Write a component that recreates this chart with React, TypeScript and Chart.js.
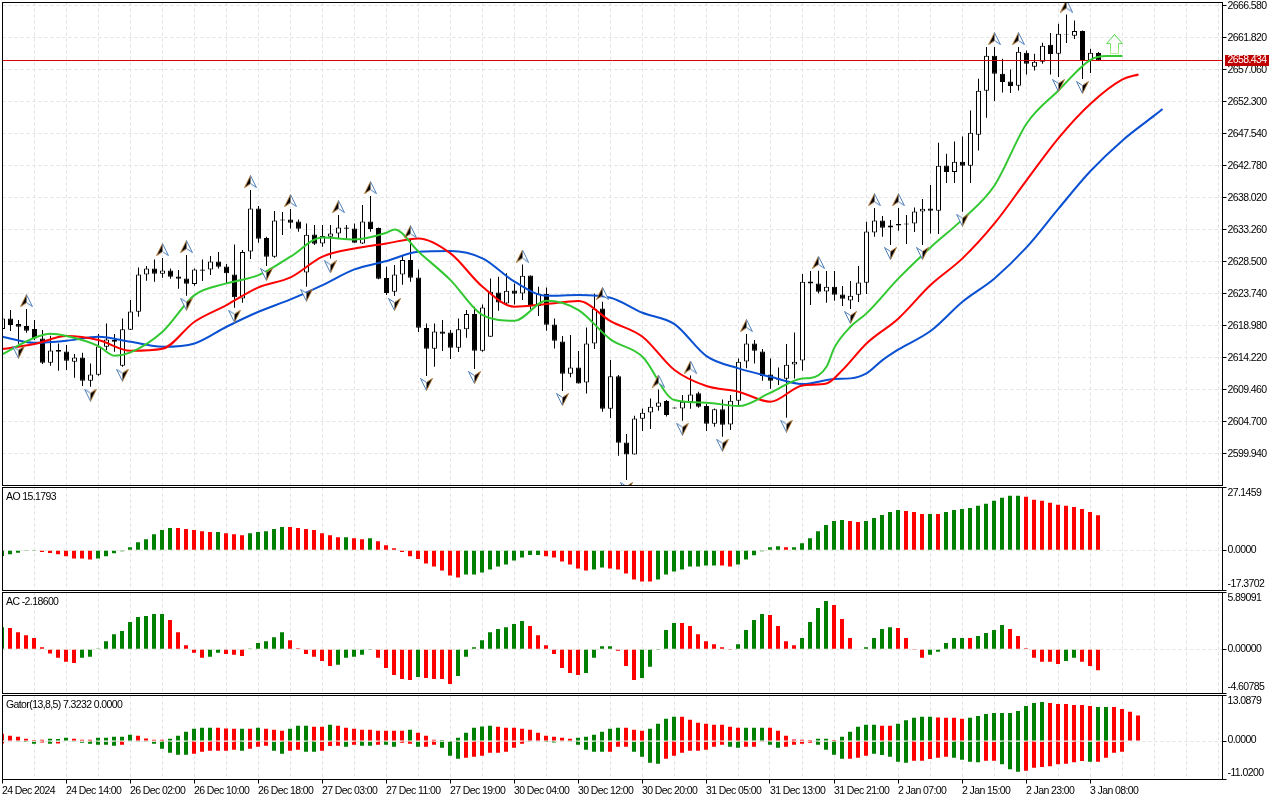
import React, { useEffect, useRef } from "react";
import Chart from "chart.js/auto";

// ---------- price data (one candle per entry) ----------
const opens = [2618.48,2620.07,2619.23,2618.93,2618.48,2617.10,2613.48,2615.36,2615.16,2613.63,2614.27,2610.80,2611.69,2615.86,2616.85,2613.03,2618.39,2621.06,2626.62,2627.51,2626.72,2627.21,2626.32,2626.02,2625.18,2627.36,2627.36,2628.55,2627.81,2626.62,2623.05,2630.04,2636.43,2632.02,2629.25,2634.80,2634.80,2634.50,2626.91,2632.57,2631.23,2632.22,2632.71,2633.61,2633.46,2631.23,2634.50,2633.51,2626.07,2624.04,2626.62,2628.75,2626.17,2618.63,2615.56,2618.14,2617.99,2615.71,2618.44,2620.72,2615.26,2617.35,2623.94,2622.30,2624.24,2623.79,2626.47,2621.91,2623.69,2619.18,2616.65,2611.84,2612.78,2610.55,2616.35,2621.56,2606.64,2611.45,2601.63,2599.84,2605.15,2606.09,2606.93,2607.78,2606.83,2606.68,2607.63,2608.92,2607.03,2604.40,2606.54,2604.30,2607.83,2613.67,2616.35,2615.16,2611.74,2611.15,2611.10,2613.23,2613.82,2625.57,2625.28,2624.09,2624.78,2623.64,2622.75,2623.59,2625.38,2632.86,2634.65,2633.61,2634.10,2634.20,2634.20,2635.99,2636.43,2636.09,2642.83,2641.84,2643.37,2642.78,2647.39,2653.94,2659.14,2656.46,2655.32,2654.68,2659.59,2657.51,2658.25,2660.78,2659.44,2662.21,2662.11,2662.81,2658.40,2659.54];
const highs = [2620.57,2621.31,2619.82,2621.46,2619.82,2618.34,2617.49,2616.35,2616.11,2614.77,2614.97,2613.38,2617.74,2619.33,2617.74,2620.07,2622.80,2627.66,2627.86,2628.85,2629.05,2627.51,2627.26,2629.49,2627.51,2628.85,2629.34,2629.94,2628.16,2631.08,2630.24,2639.16,2636.78,2632.22,2636.04,2635.89,2636.34,2634.80,2634.20,2633.95,2633.95,2633.95,2635.44,2633.95,2634.20,2636.93,2638.27,2633.60,2627.76,2628.01,2629.49,2631.72,2627.36,2619.33,2619.33,2619.82,2618.34,2620.07,2621.31,2621.81,2622.15,2626.02,2626.27,2626.77,2625.28,2628.10,2626.47,2624.78,2624.68,2620.07,2617.45,2617.59,2615.21,2618.73,2623.79,2622.55,2613.87,2611.64,2602.87,2605.59,2606.68,2608.17,2609.51,2607.92,2606.83,2608.67,2611.59,2609.17,2607.33,2606.68,2608.02,2608.67,2614.12,2617.74,2616.85,2615.51,2614.12,2612.78,2616.25,2617.99,2626.67,2627.11,2627.16,2627.11,2627.11,2624.88,2625.62,2627.86,2634.45,2636.48,2635.29,2634.70,2636.48,2635.44,2636.58,2637.82,2639.90,2646.20,2644.57,2646.40,2647.14,2651.01,2655.72,2660.43,2660.43,2658.70,2657.11,2660.43,2659.94,2659.44,2661.08,2662.51,2663.90,2665.29,2664.40,2662.91,2660.18,2659.69];
const lows = [2618.09,2618.19,2616.30,2617.94,2616.85,2613.28,2613.03,2612.29,2612.39,2611.25,2610.01,2609.91,2611.55,2615.36,2615.11,2612.88,2618.34,2620.32,2625.67,2625.53,2626.12,2625.97,2624.49,2623.44,2624.93,2625.62,2626.52,2627.51,2625.28,2621.66,2622.40,2628.90,2631.33,2627.86,2629.10,2632.47,2633.46,2632.96,2624.78,2630.98,2630.73,2629.00,2631.87,2631.97,2631.33,2631.13,2632.96,2625.90,2623.54,2623.39,2625.08,2625.53,2618.04,2611.50,2612.88,2615.21,2614.02,2615.06,2617.20,2612.53,2615.11,2617.35,2621.21,2622.05,2622.15,2622.80,2621.41,2620.42,2618.24,2615.61,2609.26,2611.30,2610.40,2608.91,2615.51,2606.19,2605.25,2599.64,2596.02,2599.84,2603.31,2603.61,2606.34,2605.49,2606.68,2604.85,2606.64,2606.78,2603.31,2603.96,2602.47,2603.46,2606.93,2612.64,2613.38,2610.80,2609.61,2610.15,2605.30,2611.15,2612.29,2622.05,2623.79,2622.40,2622.70,2621.91,2621.46,2622.50,2623.69,2632.22,2632.22,2630.98,2633.11,2631.13,2632.91,2630.98,2632.71,2632.62,2640.20,2640.20,2635.94,2640.20,2645.06,2649.92,2652.40,2653.69,2653.59,2653.99,2656.37,2656.96,2657.95,2656.37,2655.97,2661.02,2661.62,2655.67,2656.56,2658.40];
const closes = [2620.07,2619.08,2618.83,2618.24,2617.10,2613.48,2615.31,2615.11,2613.78,2614.27,2610.80,2611.74,2615.91,2616.95,2616.60,2618.44,2621.11,2626.62,2627.51,2626.72,2627.21,2626.27,2625.97,2625.23,2627.36,2627.16,2628.55,2627.76,2626.77,2623.20,2629.94,2636.43,2631.92,2629.25,2634.65,2634.65,2634.30,2633.41,2632.52,2631.18,2632.32,2632.71,2633.61,2633.41,2631.33,2634.50,2633.36,2625.97,2623.84,2626.62,2628.75,2626.12,2618.68,2615.56,2618.14,2617.79,2615.71,2618.44,2620.72,2615.26,2621.71,2624.04,2622.45,2624.19,2623.74,2626.42,2621.91,2623.79,2619.13,2616.75,2611.84,2612.78,2610.40,2616.35,2621.51,2606.64,2611.45,2601.58,2599.84,2605.20,2606.04,2606.93,2607.58,2605.69,2606.68,2607.68,2608.77,2606.93,2604.40,2606.54,2604.25,2607.83,2613.63,2616.35,2615.26,2611.50,2610.80,2610.95,2613.18,2613.63,2625.52,2625.28,2624.04,2624.78,2623.59,2623.00,2623.44,2625.43,2633.01,2634.65,2633.56,2633.90,2633.90,2634.05,2635.99,2636.38,2636.09,2642.78,2641.84,2643.37,2642.78,2647.69,2653.94,2659.14,2656.46,2655.22,2654.63,2659.74,2657.95,2658.25,2660.63,2659.39,2662.41,2662.31,2662.81,2658.35,2659.59,2658.434];

const lastPrice = 2658.434;
const priceTicks = [2666.58,2661.82,2657.06,2652.3,2647.54,2642.78,2638.02,2633.26,2628.5,2623.74,2618.98,2614.22,2609.46,2604.7,2599.94];

// Alligator lines, read at the bars listed in each *At array
const jawAt = [0,4,8,12,16,20,24,28,32,36,40,44,48,52,56,60,64,68,72,76,80,84,88,92,96,100,104,106,108,110,112,116,120,124,128,132,136,140,144,145];
const jaw = [2617.35,2616.45,2616.75,2617.35,2616.60,2615.86,2616.35,2618.83,2621.06,2622.90,2625.03,2627.36,2628.60,2629.99,2630.09,2629.00,2625.53,2623.44,2623.54,2623.15,2620.91,2619.23,2614.47,2612.64,2611.39,2610.30,2611.05,2611.15,2611.89,2613.87,2615.46,2618.19,2622.55,2626.02,2630.63,2636.40,2641.99,2646.55,2650.27,2651.21];
const teethAt = [0,4,8,12,16,20,24,28,32,36,40,44,48,52,56,60,64,68,72,76,80,84,88,92,96,100,103,105,108,112,116,120,124,128,132,136,140,142];
const teeth = [2615.51,2616.25,2617.44,2616.85,2615.26,2615.56,2619.58,2622.05,2624.68,2626.17,2629.25,2630.48,2631.23,2631.97,2629.74,2624.78,2621.81,2622.20,2622.65,2619.67,2617.35,2612.39,2610.01,2609.17,2607.68,2610.10,2610.40,2612.40,2616.35,2620.07,2625.03,2629.00,2634.20,2640.60,2646.89,2652.00,2655.62,2656.36];
const lipsAt = [0,4,6,8,12,14,16,20,24,28,32,36,40,44,48,49,52,56,60,64,68,72,76,80,84,88,92,96,100,101,103,104,106,108,112,116,120,124,128,132,136,138,140];
const lips = [2614.77,2617.20,2617.79,2617.44,2615.96,2614.52,2615.01,2618.09,2623.54,2625.28,2626.52,2629.25,2632.12,2631.82,2632.81,2633.31,2629.99,2625.77,2620.57,2619.72,2622.70,2621.31,2616.95,2614.37,2607.92,2607.53,2607.03,2609.02,2611.15,2611.20,2612.88,2615.76,2618.83,2620.82,2626.02,2630.63,2634.80,2639.85,2649.03,2653.98,2658.54,2659.09,2659.09];

// Fractal markers: bars whose high / low carries an arrow
const fractalUpBars = [3,20,23,31,36,42,46,51,65,75,82,86,93,102,109,112,124,127,133];
const fractalDownBars = [2,11,15,23,29,33,38,41,49,53,59,70,78,85,90,98,106,111,115,120,132,135];
const signalBar = 139;
const signalPrice = 2660.88;

// ---------- indicators ----------
const ao = [-2.47,-1.75,-1.02,-0.29,-0.29,-0.73,-1.16,-1.75,-2.62,-3.49,-3.49,-3.93,-3.49,-2.62,-1.31,-0.44,1.31,3.49,4.80,6.98,8.73,9.60,9.60,9.17,8.73,8.29,7.86,7.86,7.42,6.98,6.55,7.42,7.86,8.29,9.17,10.04,10.04,9.60,9.17,8.73,7.42,6.55,5.67,5.67,5.24,4.80,5.24,3.93,2.18,0.87,-0.73,-2.62,-3.78,-5.67,-6.98,-8.73,-10.91,-11.79,-10.48,-10.48,-9.60,-8.29,-6.98,-6.11,-4.37,-3.06,-2.04,-2.04,-2.62,-3.06,-4.80,-6.11,-7.86,-8.73,-8.29,-7.42,-7.86,-8.29,-10.04,-12.66,-13.53,-13.53,-12.66,-10.48,-9.17,-8.29,-6.98,-6.98,-6.55,-6.55,-6.55,-6.98,-6.11,-3.93,-2.18,-0.44,1.31,1.75,1.31,1.31,3.06,5.24,8.29,10.91,12.66,13.10,12.66,12.22,12.66,13.97,15.28,16.59,17.46,17.02,16.59,15.71,15.71,15.71,16.59,17.46,17.90,18.33,19.21,20.08,21.39,22.70,23.57,23.57,23.13,21.83,21.39,20.52,19.64,19.21,18.77,17.90,16.59,15.18];
const aoColors = ["ggggg","rrrrrrr","gggggggggg","rrrrr","g","rrr","ggggg","rrrrrrr","g","rr","g","rrrrrrrrrrr","gggggggggg","rrrrrr","gg","rrrrrr","gggggggg","rr","gggggg","r","ggggggg","rr","ggggg","rrr","g","r","gggggggggg","rrrrrrrrrr"].join("");

const ac = [2.29,2.19,1.77,1.46,1.15,0.21,-0.45,-0.90,-1.32,-1.43,-0.90,-0.80,0.07,0.83,1.56,1.88,2.82,3.34,3.44,3.65,3.65,3.02,1.77,0.42,-0.38,-0.90,-0.80,-0.38,-0.49,-0.59,-0.70,0.03,0.63,0.83,1.25,1.77,0.94,0.10,-0.49,-0.80,-1.22,-1.74,-1.63,-0.90,-0.80,-0.59,-0.03,-0.90,-1.95,-2.68,-3.09,-3.20,-2.89,-2.99,-3.09,-3.09,-3.62,-2.78,-0.80,0.21,0.94,1.77,2.09,2.29,2.61,2.92,2.40,1.46,0.42,-0.49,-1.95,-2.47,-2.68,-2.47,-0.90,0.31,0.31,-0.17,-1.74,-3.20,-2.99,-1.84,-0.03,1.98,2.71,2.71,2.40,1.56,0.83,0.52,0.21,-0.03,0.52,1.98,3.02,3.65,3.55,2.40,0.83,0.42,1.15,2.82,4.28,5.01,4.59,3.13,1.15,-0.07,0.21,1.15,2.09,2.29,2.19,1.15,-0.03,-0.90,-0.59,-0.28,0.63,1.15,1.15,1.15,1.36,1.67,1.98,2.50,2.09,1.36,0.10,-0.90,-1.32,-1.32,-1.53,-1.22,-0.90,-1.32,-1.74,-2.186];
const acColors = ["g","rrrrrrrrr","ggggggggggg","rrrrr","gg","rrr","ggggg","rrrrrr","ggggg","rrrrr","g","rrrr","ggggggggg","rrrrrrr","gggg","rrr","ggggg","rrrrrrr","gggg","rrrr","gggg","rrrr","gggg","rrrr","ggggg","r","gggg","rrrrrrr","gg","rrr"].join("");

const gatorUp = [2.10,1.52,1.24,0.67,0.29,0.38,0.67,0.57,0.95,0.67,0.38,0.38,0.95,0.95,1.24,1.24,1.81,1.52,0.76,0.38,0.38,0.67,1.52,2.67,3.53,3.81,3.81,3.81,3.62,3.53,3.53,3.53,3.81,3.53,3.24,2.95,3.53,4.38,4.38,4.10,4.10,4.67,4.38,3.81,3.53,3.24,3.24,2.95,2.95,2.95,2.95,3.24,2.38,1.52,0.38,0.29,0.19,0.95,2.38,3.81,4.19,4.38,4.10,3.81,3.81,3.53,3.24,2.38,1.52,1.24,0.95,0.67,0.95,1.24,1.81,2.67,3.53,3.81,3.81,3.24,2.95,3.53,4.96,6.39,6.96,6.96,6.10,5.24,4.96,4.67,4.67,4.10,3.81,3.81,3.81,3.81,3.81,2.95,1.52,0.48,0.38,0.29,0.67,0.67,0.29,1.24,2.67,4.10,4.67,4.67,4.38,4.38,4.96,6.00,6.67,6.96,6.96,6.77,6.67,6.67,6.39,6.67,7.24,7.81,8.10,8.10,8.10,8.67,10.10,10.96,11.25,10.96,10.67,10.67,10.39,10.39,10.10,9.82,9.82,9.82,9.24,8.39,7.32];
const gatorUpColors = ["rrrrrr","ggg","rrr","ggggg","rrrr","gggggg","rrr","g","r","g","rrr","ggg","rr","g","rrrrrrrrr","g","rrr","g","r","ggggg","rrrrrrrrrr","gggggg","rrr","gggg","rrrrrrrr","ggg","rrrrrr","gg","r","ggggg","rr","ggggg","rrrr","gggggggggg","rrrrrr","gg","rrrr"].join("");
const gatorDown = [-0.67,-0.02,-0.19,-0.29,-0.76,-0.38,-0.76,-0.67,-0.10,-0.19,-0.48,-0.76,-1.05,-1.05,-1.33,-1.05,-0.19,-0.19,-0.19,-0.76,-2.19,-3.34,-3.91,-3.91,-3.62,-3.05,-2.76,-2.76,-2.76,-2.48,-2.76,-2.19,-1.62,-1.33,-2.76,-3.62,-2.76,-2.48,-3.05,-3.05,-2.76,-1.43,-1.33,-1.62,-1.05,-1.33,-1.33,-1.05,-1.05,-1.62,-0.48,-0.76,-1.62,-1.62,-1.05,-1.91,-4.19,-5.05,-4.77,-4.48,-4.19,-3.34,-3.34,-3.05,-1.91,-0.76,-0.19,-0.19,-0.29,-0.38,-0.02,-0.02,-1.05,-2.48,-3.05,-3.05,-3.05,-1.62,-1.62,-3.05,-4.48,-6.19,-6.48,-5.05,-4.19,-3.34,-2.76,-2.76,-2.48,-1.62,-1.05,-1.62,-1.91,-1.62,-1.62,-0.19,-1.05,-1.91,-1.62,-1.05,-0.76,-0.48,-1.05,-2.48,-3.91,-5.05,-5.05,-4.77,-4.19,-3.62,-4.00,-4.48,-5.91,-6.19,-5.62,-5.62,-5.15,-4.77,-4.48,-4.77,-5.34,-5.91,-6.10,-5.62,-5.62,-6.67,-8.10,-8.77,-8.48,-7.62,-7.43,-7.24,-6.67,-6.48,-6.10,-5.72,-5.91,-5.91,-4.77,-3.34,-3.05];
const gatorDownColors = ["rr","ggg","r","g","r","ggggggg","r","gggggggg","rrrrrr","g","rrr","gg","rr","gg","rrr","g","r","gg","r","gg","rr","g","rr","ggg","rrrrrrrr","gggggggggg","rrr","gggg","rrrrrrrr","gg","rrr","gg","rrrr","gggg","rrr","ggggg","rrrrr","gggg","rr","ggg","rrrrrrrr","g","rrrr"].join("");

const aoTicks = [27.1459, 0, -17.3702];
const aoTickLabels = ["27.1459", "0.0000", "-17.3702"];
const acTicks = [5.89091, 0, -4.60785];
const acTickLabels = ["5.89091", "0.00000", "-4.60785"];
const gatorTicks = [13.0879, 0, -11.02];
const gatorTickLabels = ["13.0879", "0.0000", "-11.0200"];

const timeLabels = ["24 Dec 2024","24 Dec 14:00","26 Dec 02:00","26 Dec 10:00","26 Dec 18:00","27 Dec 03:00","27 Dec 11:00","27 Dec 19:00","30 Dec 04:00","30 Dec 12:00","30 Dec 20:00","31 Dec 05:00","31 Dec 13:00","31 Dec 21:00","2 Jan 07:00","2 Jan 15:00","2 Jan 23:00","3 Jan 08:00"];

// ---------- style ----------
const FONT = '"Liberation Sans", Arial, sans-serif';
const FONT_SIZE = 10.5;
const LETTER_SPACING = "-0.6px";
const GRID = "#e2e2e2";
const GREEN_BAR = "#008000";
const RED_BAR = "#ff0000";
const barColor = (c: string) => (c === "g" ? GREEN_BAR : RED_BAR);
const AXIS_W = 57.5;
const SLOTS = 152.5;
const gridTicks = Array.from({ length: 39 }, (_, k) => k * 4);

function fractalCanvas(up: boolean) {
  const c = document.createElement("canvas");
  c.width = 13;
  c.height = 13;
  const g = c.getContext("2d")!;
  const tipY = up ? 0.5 : 12.5;
  const wingY = up ? 12.5 : 0.5;
  const notchY = up ? 8.5 : 4.5;
  g.beginPath();
  g.moveTo(6.5, tipY); g.lineTo(12.5, wingY); g.lineTo(6.5, notchY); g.lineTo(0.5, wingY); g.closePath();
  g.fillStyle = "#ffffff";
  g.fill();
  g.beginPath();
  if (up) { g.moveTo(6.5, tipY); g.lineTo(6.5, notchY); g.lineTo(0.5, wingY); }
  else { g.moveTo(6.5, tipY); g.lineTo(6.5, notchY); g.lineTo(12.5, wingY); }
  g.closePath();
  g.fillStyle = "#000000";
  g.fill();
  g.lineWidth = 1;
  g.strokeStyle = up ? "#b07a3a" : "#4f7fb8";
  g.beginPath(); g.moveTo(6.5, tipY); g.lineTo(0.5, wingY); g.lineTo(6.5, notchY); g.stroke();
  g.strokeStyle = up ? "#4f7fb8" : "#b07a3a";
  g.beginPath(); g.moveTo(6.5, tipY); g.lineTo(12.5, wingY); g.lineTo(6.5, notchY); g.stroke();
  return c;
}

function signalCanvas() {
  const c = document.createElement("canvas");
  c.width = 17;
  c.height = 20;
  const g = c.getContext("2d")!;
  const grad = g.createLinearGradient(0, 0, 0, 20);
  grad.addColorStop(0, "#22c822");
  grad.addColorStop(1, "#b4ec96");
  g.beginPath();
  g.moveTo(8.5, 0.5); g.lineTo(16.5, 9.5); g.lineTo(12.5, 9.5); g.lineTo(12.5, 19.5);
  g.lineTo(4.5, 19.5); g.lineTo(4.5, 9.5); g.lineTo(0.5, 9.5); g.closePath();
  g.fillStyle = "#ffffff";
  g.fill();
  g.strokeStyle = grad;
  g.lineWidth = 1;
  g.stroke();
  return c;
}

const framePlugin = {
  id: "frame",
  afterDraw(chart: any) {
    const { ctx, chartArea: a } = chart;
    ctx.save();
    ctx.strokeStyle = "#000";
    ctx.lineWidth = 1;
    ctx.strokeRect(a.left, a.top, a.right - a.left, a.bottom - a.top);
    ctx.restore();
  },
};

function panelTextPlugin(title: string, ticks: number[], labels: string[]) {
  return {
    id: "panelText",
    afterDraw(chart: any) {
      const { ctx, chartArea: a, scales } = chart;
      ctx.save();
      ctx.fillStyle = "#000";
      ctx.font = `${FONT_SIZE}px ${FONT}`;
      ctx.textBaseline = "middle";
      ctx.textAlign = "left";
      ctx.fillText(title, 6, a.top + 9.2);
      const nudges = [5.5, -0.5, -6];
      ticks.forEach((v, i) => {
        const y = scales.y.getPixelForValue(v);
        ctx.strokeStyle = "#000";
        ctx.beginPath();
        ctx.moveTo(a.right, Math.round(y - 0.5) + 0.5);
        ctx.lineTo(a.right + 4, Math.round(y - 0.5) + 0.5);
        ctx.stroke();
        ctx.fillText(labels[i], a.right + 5, y + nudges[i]);
      });
      ctx.restore();
    },
  };
}

const lastPricePlugin = {
  id: "lastPrice",
  afterDraw(chart: any) {
    const { ctx, chartArea: a, scales } = chart;
    const y = scales.y.getPixelForValue(lastPrice);
    ctx.save();
    ctx.fillStyle = "#c00000";
    ctx.fillRect(a.right + 2.5, Math.round(y) - 6, 44, 11);
    ctx.fillStyle = "#ffffff";
    ctx.font = `${FONT_SIZE}px ${FONT}`;
    ctx.textBaseline = "middle";
    ctx.textAlign = "left";
    ctx.fillText(lastPrice.toFixed(3), a.right + 5, y);
    ctx.restore();
  },
};

const spacingPlugin = {
  id: "spacing",
  beforeDraw(chart: any) {
    chart.ctx.letterSpacing = LETTER_SPACING;
  },
};

function xScale(min: number, showLabels: boolean, height: number) {
  return {
    type: "linear",
    min,
    max: min + SLOTS,
    offset: false,
    bounds: "data",
    afterBuildTicks: (s: any) => {
      s.ticks = gridTicks.map((value) => ({ value }));
    },
    afterFit: (s: any) => {
      s.height = height;
      s.paddingLeft = 0;
      s.paddingRight = 0;
    },
    border: { display: false, dash: [3, 3] },
    grid: {
      offset: false,
      color: GRID,
      lineWidth: 1,
      drawTicks: showLabels,
      tickLength: 4,
      tickColor: (ctx: any) =>
        ctx.tick && ctx.tick.value % 8 === 0 && ctx.tick.value / 8 < timeLabels.length ? "#000" : "transparent",
    },
    ticks: {
      display: showLabels,
      autoSkip: false,
      maxRotation: 0,
      align: "start",
      padding: 1,
      color: "#000",
      font: { family: FONT, size: FONT_SIZE },
      callback: (v: number) => (v % 8 === 0 ? timeLabels[v / 8] ?? "" : ""),
    },
  };
}

function zeroYScale(min: number, max: number, gridOnTop: boolean) {
  return {
    type: "linear",
    position: "right",
    min,
    max,
    bounds: "data",
    afterBuildTicks: (s: any) => {
      s.ticks = [{ value: 0 }];
    },
    afterFit: (s: any) => {
      s.width = AXIS_W;
      s.paddingTop = 0;
      s.paddingBottom = 0;
    },
    border: { display: false, dash: [3, 3] },
    grid: { color: GRID, drawTicks: false, z: gridOnTop ? 1 : 0 },
    ticks: { display: false },
  };
}

function baseOptions(scales: any, padding: any) {
  return {
    responsive: false,
    maintainAspectRatio: false,
    animation: false,
    devicePixelRatio: 1,
    events: [],
    layout: { padding, autoPadding: false },
    plugins: { legend: { display: false }, tooltip: { enabled: false } },
    scales,
  };
}

function histogram(values: number[], colors: string, order = 1) {
  return {
    type: "bar",
    grouped: false,
    order,
    barThickness: 4,
    inflateAmount: 0,
    borderWidth: 0,
    data: values.map((y, x) => ({ x, y })),
    backgroundColor: values.map((_, i) => barColor(colors[i])),
  };
}

function alligator(at: number[], values: number[], color: string, order: number) {
  return {
    type: "line",
    order,
    data: values.map((y, i) => ({ x: at[i], y })),
    borderColor: color,
    borderWidth: 2,
    pointRadius: 0,
    cubicInterpolationMode: "monotone",
  };
}

function mainConfig() {
  const barsX = opens.map((_, i) => i);
  return {
    type: "bar",
    data: {
      datasets: [
        {
          type: "bar", grouped: false, order: 9, barThickness: 1, inflateAmount: 0, borderWidth: 0,
          data: barsX.map((x) => ({ x, y: [lows[x], highs[x]] })),
          backgroundColor: "#000000",
        },
        {
          type: "bar", grouped: false, order: 8, barThickness: 5, inflateAmount: 0, borderWidth: 1, borderSkipped: false,
          data: barsX.map((x) => ({ x, y: [Math.min(opens[x], closes[x]), Math.max(opens[x], closes[x])] })),
          backgroundColor: barsX.map((x) => (closes[x] >= opens[x] ? "#ffffff" : "#000000")),
          borderColor: "#000000",
        },
        alligator(jawAt, jaw, "#0a50d2", 6),
        alligator(teethAt, teeth, "#ff0000", 5),
        {
          type: "line", order: 4,
          data: [{ x: 0, y: lastPrice }, { x: SLOTS, y: lastPrice }],
          borderColor: "#d80000", borderWidth: 1, pointRadius: 0,
        },
        alligator(lipsAt, lips, "#32c832", 3),
        {
          type: "line", order: 2, showLine: false,
          data: fractalUpBars.map((x) => ({ x, y: highs[x] + 1.25 })),
          pointStyle: fractalCanvas(true), pointRadius: 6,
        },
        {
          type: "line", order: 2, showLine: false,
          data: fractalDownBars.map((x) => ({ x, y: lows[x] - 1.25 })),
          pointStyle: fractalCanvas(false), pointRadius: 6,
        },
        {
          type: "line", order: 1, showLine: false,
          data: [{ x: signalBar, y: signalPrice }],
          pointStyle: signalCanvas(), pointRadius: 9,
        },
      ],
    },
    options: baseOptions(
      {
        x: xScale(0, false, 0),
        y: {
          type: "linear",
          position: "right",
          min: 2595.216,
          max: 2667.062,
          bounds: "data",
          afterBuildTicks: (s: any) => {
            s.ticks = priceTicks.map((value) => ({ value }));
          },
          afterFit: (s: any) => {
            s.width = AXIS_W;
            s.paddingTop = 0;
            s.paddingBottom = 0;
          },
          border: { display: false, dash: [3, 3] },
          grid: { color: GRID, tickLength: 4, tickColor: "#000" },
          ticks: {
            autoSkip: false,
            padding: 1,
            color: "#000",
            font: { family: FONT, size: FONT_SIZE },
            callback: (v: number) => v.toFixed(3),
          },
        },
      },
      { left: 2.5, top: 2.5, bottom: 0.5, right: 0 }
    ),
    plugins: [spacingPlugin, framePlugin, lastPricePlugin],
  };
}

const SUB_X = 0.0625;

function aoConfig() {
  return {
    type: "bar",
    data: { datasets: [histogram(ao, aoColors)] },
    options: baseOptions(
      { x: xScale(SUB_X, false, 0), y: zeroYScale(aoTicks[2], aoTicks[0], false) },
      { left: 2.5, top: 0.5, bottom: 0.5, right: 0 }
    ),
    plugins: [spacingPlugin, framePlugin, panelTextPlugin("AO 15.1793", aoTicks, aoTickLabels)],
  };
}

function acConfig() {
  return {
    type: "bar",
    data: { datasets: [histogram(ac, acColors)] },
    options: baseOptions(
      { x: xScale(SUB_X, false, 0), y: zeroYScale(acTicks[2], acTicks[0], false) },
      { left: 2.5, top: 0.5, bottom: 0.5, right: 0 }
    ),
    plugins: [spacingPlugin, framePlugin, panelTextPlugin("AC -2.18600", acTicks, acTickLabels)],
  };
}

function gatorConfig() {
  return {
    type: "bar",
    data: {
      datasets: [
        histogram(gatorUp, gatorUpColors, 1),
        histogram(gatorDown, gatorDownColors, 2),
      ],
    },
    options: baseOptions(
      { x: xScale(SUB_X, true, 20.5), y: zeroYScale(gatorTicks[2], gatorTicks[0], true) },
      { left: 2.5, top: 0.5, bottom: 0, right: 0 }
    ),
    plugins: [spacingPlugin, framePlugin, panelTextPlugin("Gator(13,8,5) 7.3232 0.0000", gatorTicks, gatorTickLabels)],
  };
}

const panels = [
  { top: 0, height: 486, config: mainConfig },
  { top: 487, height: 104, config: aoConfig },
  { top: 592, height: 102, config: acConfig },
  { top: 695, height: 105, config: gatorConfig },
];

export default function App() {
  const refs = useRef<(HTMLCanvasElement | null)[]>([]);
  useEffect(() => {
    document.body.style.margin = "0";
    document.body.style.background = "#ffffff";
    const charts = panels.map((p, i) => new Chart(refs.current[i] as any, p.config() as any));
    return () => charts.forEach((c) => c.destroy());
  }, []);
  return (
    <div style={{ position: "absolute", left: 0, top: 0, width: 1280, height: 800, overflow: "hidden", background: "#fff" }}>
      {panels.map((p, i) => (
        <canvas
          key={i}
          ref={(el) => {
            refs.current[i] = el;
          }}
          width={1280}
          height={p.height}
          style={{ position: "absolute", left: 0, top: p.top, width: 1280, height: p.height }}
        />
      ))}
    </div>
  );
}
